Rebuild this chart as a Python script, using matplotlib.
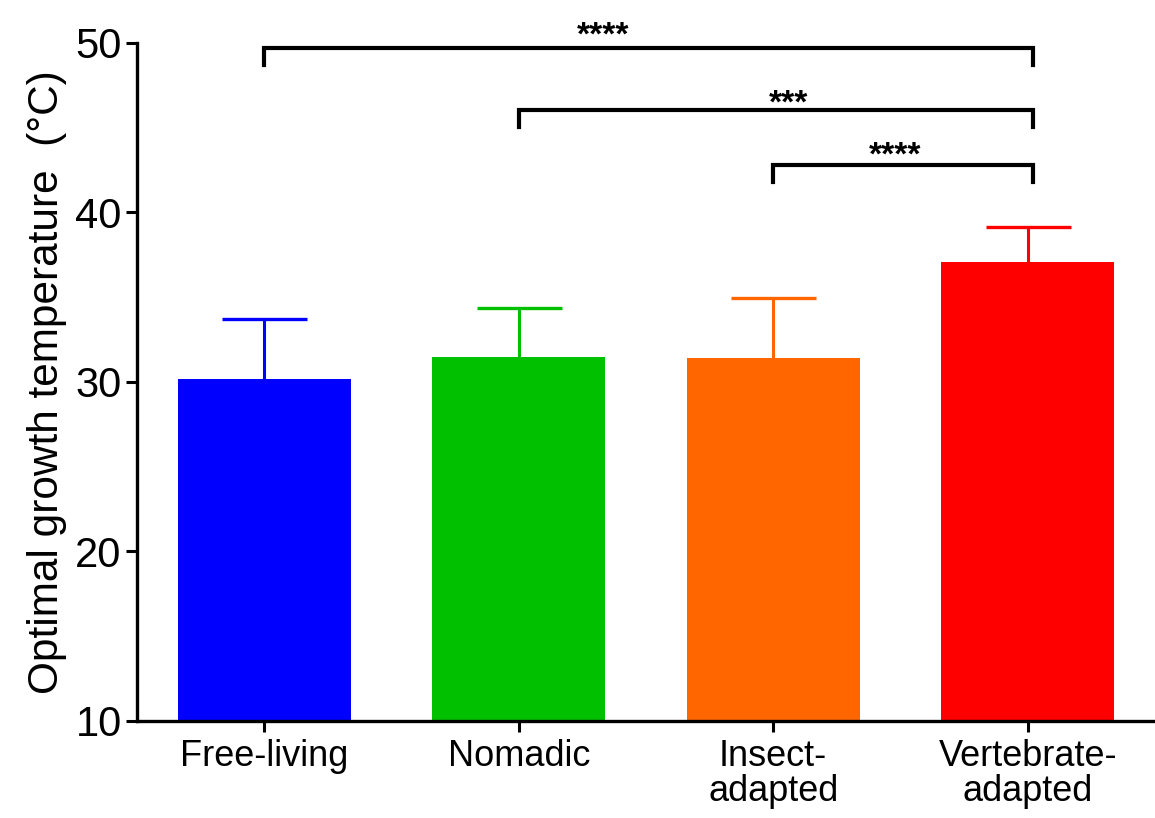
import matplotlib
matplotlib.use("Agg")
import matplotlib.pyplot as plt
import numpy as np

plt.rcParams['font.family'] = ['Liberation Sans', 'DejaVu Sans']

# Data
categories = ["Free-living", "Nomadic", "Insect-\nadapted", "Vertebrate-\nadapted"]
means = [30.2, 31.45, 31.43, 37.1]
errors = [3.5, 2.9, 3.55, 2.05]
colors = ["#0000FF", "#00C000", "#FF6600", "#FF0000"]

# Significance brackets: (start index, end index, bracket height, label)
brackets = [(0, 3, 49.7, "****"), (1, 3, 46.05, "***"), (2, 3, 42.8, "****")]
# Star label positions (x in category units, y in data units)
star_x = [1.33, 2.06, 2.48]
star_y = [50.4, 46.4, 43.3]

yticks = [10, 20, 30, 40, 50]

fig = plt.figure(figsize=(11.55, 8.18), dpi=100)
ax = fig.add_axes([0.1186, 0.1186, 0.8814, 0.8289])

x = np.arange(len(categories))
ax.bar(x, [m - 10 for m in means], bottom=10, width=0.678, color=colors, zorder=2)
for xi, m, e, c in zip(x, means, errors, colors):
    cont = ax.errorbar(xi, m, yerr=[[0], [e]], fmt='none', ecolor=c, elinewidth=2.2,
                       capsize=30.6, capthick=2.4, zorder=3)
    caps = cont[1]
    # hide the cap lying on the bar top (lower end)
    low = min(caps, key=lambda ln: ln.get_ydata()[0])
    low.set_visible(False)

for (i, j, h, lab), sx, sy in zip(brackets, star_x, star_y):
    ax.plot([i, i, j + 0.02, j + 0.02], [h - 1.0, h, h, h - 1.0], color='black',
            lw=3.0, solid_joinstyle='miter', clip_on=False, zorder=4)
    ax.text(sx, sy, lab, ha='center', va='center', fontsize=24, fontweight='bold',
            color='black')

ax.set_xlim(-0.5, 3.5)
ax.set_ylim(10, 50)
ax.set_yticks(yticks)
ax.set_xticks(x)
ax.set_xticklabels(categories, fontsize=26, linespacing=0.98)
ax.tick_params(axis='y', labelsize=30, length=8, width=2.2, pad=3)
ax.tick_params(axis='x', length=8, width=2.2, pad=5)

for s in ['top', 'right']:
    ax.spines[s].set_visible(False)
for s in ['left', 'bottom']:
    ax.spines[s].set_linewidth(2.4)

ax.set_ylabel("Optimal growth temperature  (°C)", fontsize=30.5, labelpad=6)

fig.savefig("out.png", dpi=100)
